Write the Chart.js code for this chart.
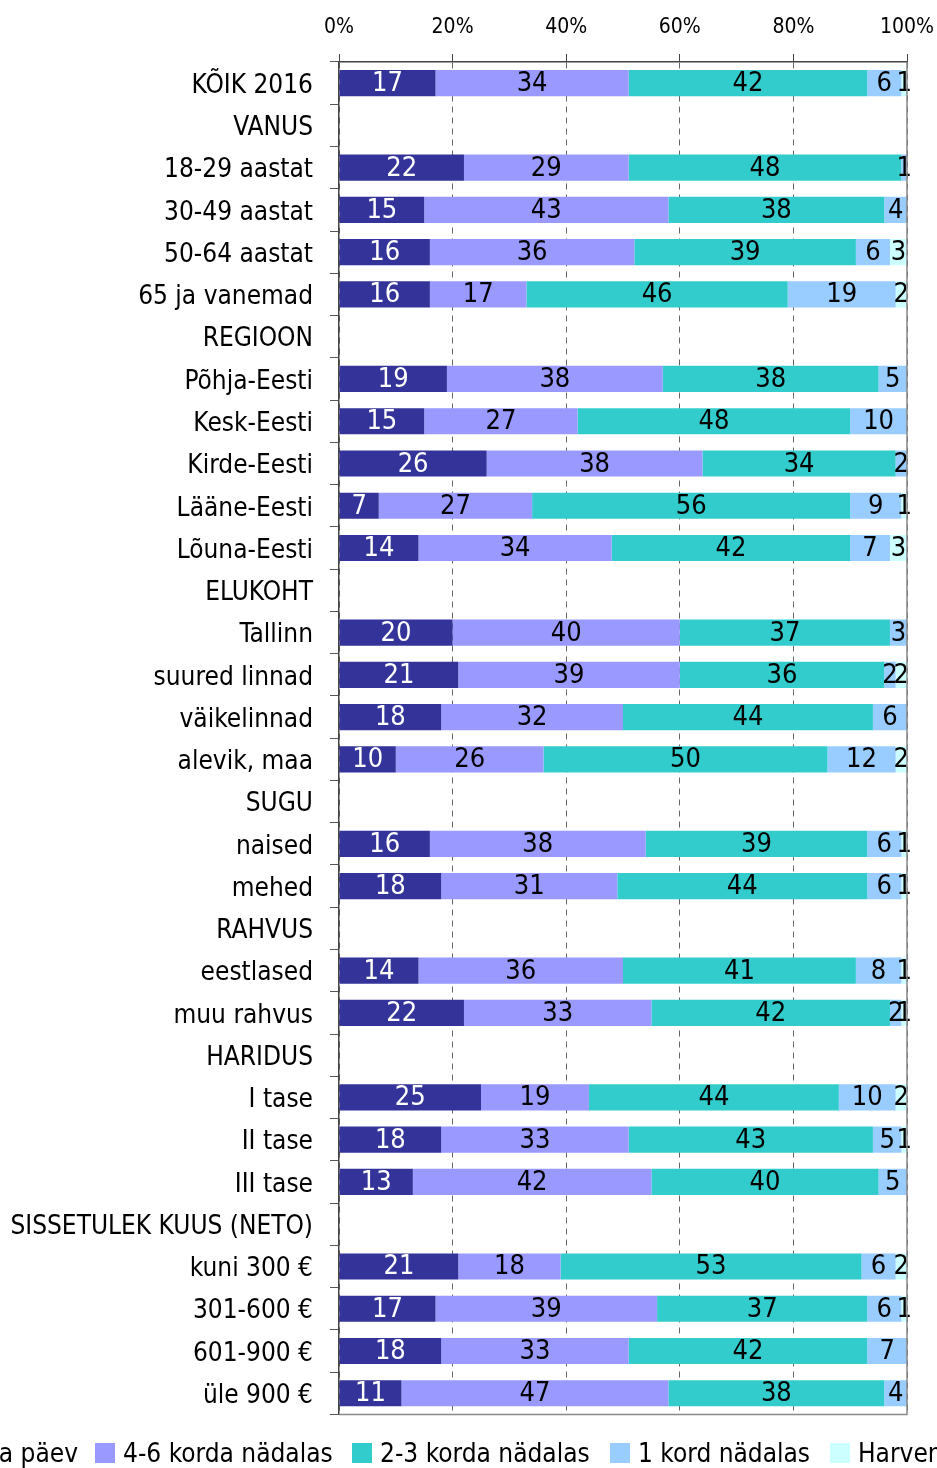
<!DOCTYPE html>
<html>
<head>
<meta charset="utf-8">
<script src="https://cdn.jsdelivr.net/npm/chart.js@4/dist/chart.umd.min.js"></script>
<style>
  body { margin: 0; background: #fff; width: 937px; height: 1468px; overflow: hidden; position: relative; }
  #chart { position: absolute; left: 0; top: 0; }
  #legend { position: absolute; left: 0; top: 1437px; width: 937px; height: 31px; overflow: hidden;
            font-family: 'Liberation Sans Narrow', 'DejaVu Sans Condensed', Lato, sans-serif; font-size: 26px; color: #000; }
  .item { position: absolute; top: 0; height: 32px; white-space: nowrap; display: flex; align-items: center; }
  .box { width: 20px; height: 20px; margin-right: 8px; flex: none; }
</style>
</head>
<body>
<canvas id="chart" width="937" height="1447"></canvas>
<div id="legend"></div>
<script>
const FONT = "'Liberation Sans Narrow', 'DejaVu Sans Condensed', Lato, sans-serif";

const categories = [
  'KÕIK 2016', 'VANUS', '18-29 aastat', '30-49 aastat', '50-64 aastat', '65 ja vanemad',
  'REGIOON', 'Põhja-Eesti', 'Kesk-Eesti', 'Kirde-Eesti', 'Lääne-Eesti', 'Lõuna-Eesti',
  'ELUKOHT', 'Tallinn', 'suured linnad', 'väikelinnad', 'alevik, maa',
  'SUGU', 'naised', 'mehed',
  'RAHVUS', 'eestlased', 'muu rahvus',
  'HARIDUS', 'I tase', 'II tase', 'III tase',
  'SISSETULEK KUUS (NETO)', 'kuni 300 €', '301-600 €', '601-900 €', 'üle 900 €'
];

const seriesNames = ['Iga päev', '4-6 korda nädalas', '2-3 korda nädalas', '1 kord nädalas', 'Harvem'];
const seriesColors = ['#333399', '#9999FF', '#33CCCC', '#99CCFF', '#CCFFFF'];

const n = null;
const igaPaev   = [17, n, 22, 15, 16, 16, n, 19, 15, 26, 7, 14, n, 20, 21, 18, 10, n, 16, 18, n, 14, 22, n, 25, 18, 13, n, 21, 17, 18, 11];
const korda46   = [34, n, 29, 43, 36, 17, n, 38, 27, 38, 27, 34, n, 40, 39, 32, 26, n, 38, 31, n, 36, 33, n, 19, 33, 42, n, 18, 39, 33, 47];
const korda23   = [42, n, 48, 38, 39, 46, n, 38, 48, 34, 56, 42, n, 37, 36, 44, 50, n, 39, 44, n, 41, 42, n, 44, 43, 40, n, 53, 37, 42, 38];
const kord1     = [6, n, 1, 4, 6, 19, n, 5, 10, 2, 9, 7, n, 3, 2, 6, 12, n, 6, 6, n, 8, 2, n, 10, 5, 5, n, 6, 6, 7, 4];
const harvem    = [1, n, 0, 0, 3, 2, n, 0, 0, 0, 1, 3, n, 0, 2, 0, 2, n, 1, 1, n, 1, 1, n, 2, 1, 0, n, 2, 1, 0, 0];

const xTicks = [0, 20, 40, 60, 80, 100];

const seriesData = [igaPaev, korda46, korda23, kord1, harvem];

// numbers inside the bars
const barLabels = {
  id: 'barLabels',
  afterDatasetsDraw(chart) {
    const ctx = chart.ctx;
    ctx.save();
    ctx.font = '27px ' + FONT;
    ctx.textAlign = 'center';
    ctx.textBaseline = 'middle';
    chart.data.datasets.forEach((ds, i) => {
      chart.getDatasetMeta(i).data.forEach((bar, j) => {
        const v = ds.data[j];
        if (!v) return;
        ctx.fillStyle = i === 0 ? '#fff' : '#000';
        ctx.fillText(String(v), (bar.x + bar.base) / 2, bar.y + 1);
      });
    });
    ctx.restore();
  }
};

// grey right and bottom edge of the plot area
const frame = {
  id: 'frame',
  afterDraw(chart) {
    const { ctx, chartArea: a } = chart;
    ctx.save();
    ctx.strokeStyle = '#888';
    ctx.lineWidth = 1.5;
    ctx.beginPath();
    ctx.moveTo(a.left, a.bottom);
    ctx.lineTo(a.right, a.bottom);
    ctx.lineTo(a.right, a.top);
    ctx.stroke();
    ctx.restore();
  }
};

const ctx = document.getElementById('chart').getContext('2d');
const chart = new Chart(ctx, {
  type: 'bar',
  data: {
    labels: categories,
    datasets: seriesNames.map((name, i) => ({
      label: name,
      data: seriesData[i],
      backgroundColor: seriesColors[i],
      borderWidth: 0,
      barPercentage: 0.62,
      categoryPercentage: 1
    }))
  },
  options: {
    indexAxis: 'y',
    responsive: false,
    animation: false,
    layout: { padding: { top: 0, right: 30, bottom: 7, left: 0 } },
    plugins: {
      legend: { display: false },
      tooltip: { enabled: false }
    },
    scales: {
      x: {
        position: 'top',
        stacked: true,
        min: 0,
        max: 100,
        afterBuildTicks: s => { s.ticks = xTicks.map(v => ({ value: v })); },
        afterFit: s => { s.height = 62; s.paddingLeft = 0; s.paddingRight = 0; },
        ticks: {
          callback: v => v + '%',
          color: '#000',
          font: { family: FONT, size: 21 },
          padding: 14
        },
        grid: { color: '#666', lineWidth: 1, tickLength: 8, tickColor: '#444', tickBorderDash: [] },
        border: { color: '#444', width: 1.5, dash: [6, 5] }
      },
      y: {
        stacked: true,
        afterFit: s => { s.width = 339; },
        ticks: {
          color: '#000',
          font: { family: FONT, size: 26 },
          padding: 17,
          labelOffset: 3,
          autoSkip: false
        },
        grid: { drawOnChartArea: false, drawTicks: true, tickLength: 9, color: '#555', offset: true },
        border: { color: '#444', width: 1.5 }
      }
    }
  },
  plugins: [barLabels, frame]
});

// legend, cut off at the left edge like the original
const legend = document.getElementById('legend');
const boxLeft = [null, 95, 352, 610, 830];
seriesNames.forEach((name, i) => {
  const item = document.createElement('div');
  item.className = 'item';
  if (i === 0) item.style.right = (937 - 78) + 'px';
  else item.style.left = boxLeft[i] + 'px';
  const box = document.createElement('span');
  box.className = 'box';
  box.style.background = seriesColors[i];
  const txt = document.createElement('span');
  txt.textContent = name;
  item.appendChild(box);
  item.appendChild(txt);
  legend.appendChild(item);
});
</script>
</body>
</html>
